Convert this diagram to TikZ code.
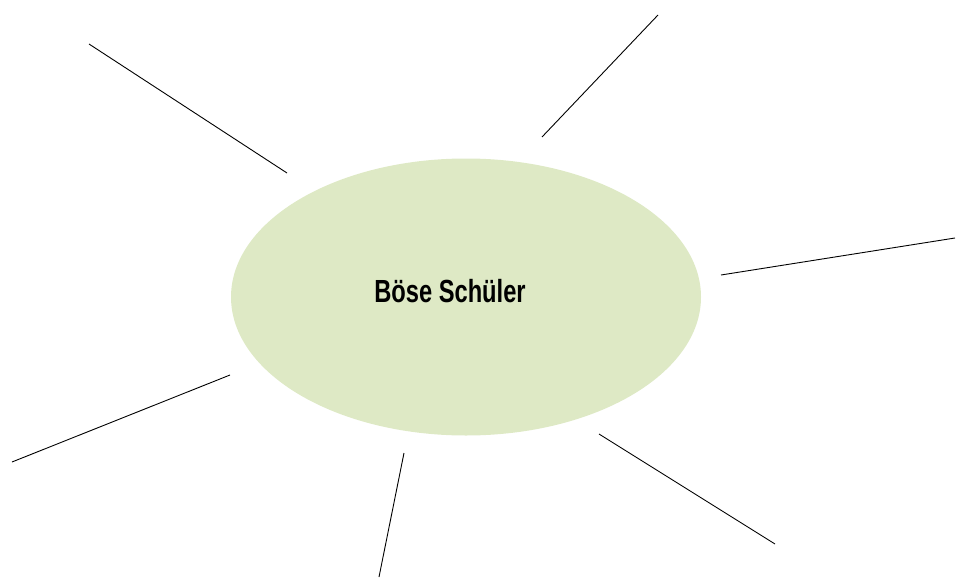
\documentclass[tikz,border=0pt]{standalone}
\usepackage{fontspec}
\setmainfont{Liberation Sans}
\usepackage{graphicx}
\definecolor{ellfill}{HTML}{DEE9C5}
\begin{document}
\begin{tikzpicture}[x=1pt,y=-1pt,
  spoke/.style={draw=black,line width=0.9pt}]
\useasboundingbox (0,0) rectangle (956,578);
\fill[ellfill] (466,297) ellipse [x radius=235, y radius=138.5];
\node (c) at (450,291) {\fontsize{32}{32}\selectfont\bfseries\scalebox{0.74}[1]{Böse Schüler}};
\coordinate (a1) at (89,44);   \coordinate (b1) at (287,173);
\coordinate (a2) at (658,15);  \coordinate (b2) at (542,137);
\coordinate (a3) at (955,238); \coordinate (b3) at (721,275);
\coordinate (a4) at (230,375); \coordinate (b4) at (12,462);
\coordinate (a5) at (404,453); \coordinate (b5) at (379,577);
\coordinate (a6) at (599,434); \coordinate (b6) at (775,544);
\foreach \i in {1,...,6} \draw[spoke] (a\i) -- (b\i);
\end{tikzpicture}
\end{document}
